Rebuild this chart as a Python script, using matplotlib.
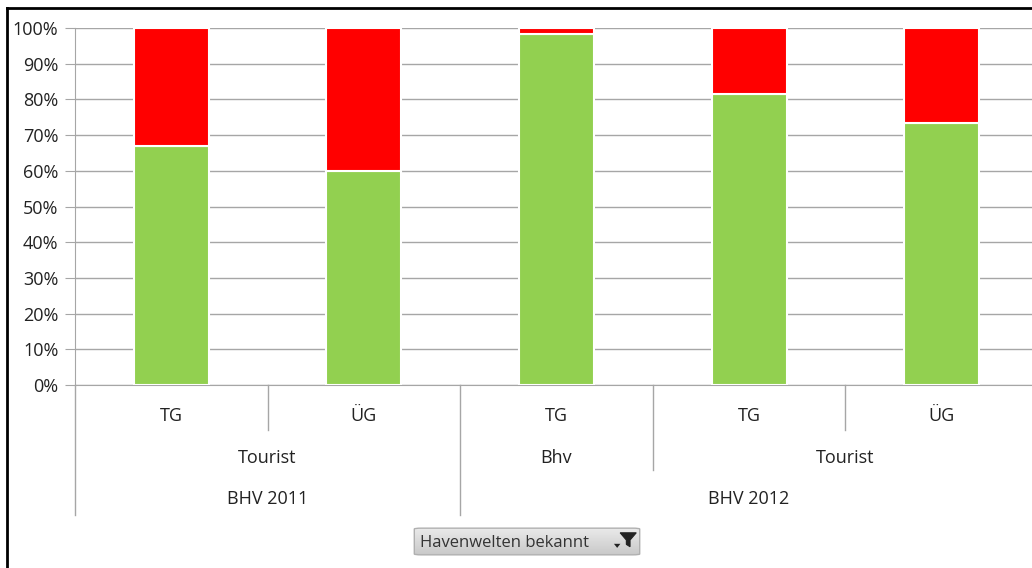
import matplotlib.pyplot as plt
import numpy as np
from matplotlib.patches import FancyBboxPatch, Polygon
from matplotlib.transforms import blended_transform_factory

plt.rcParams["font.family"] = ["Open Sans", "DejaVu Sans"]

# Share of respondents per group (green = known, red = not known)
groups = ["TG", "ÜG", "TG", "TG", "ÜG"]
known = [0.67, 0.60, 0.983, 0.815, 0.733]
unknown = [1 - k for k in known]
visitor_labels = [("Tourist", 0.5), ("Bhv", 2.0), ("Tourist", 3.5)]
year_labels = [("BHV 2011", 0.5), ("BHV 2012", 3.0)]

GREEN = "#92D050"
RED = "#FF0000"
GRID = "#A6A6A6"
TEXT = "#222222"

W, H = 1032, 568
fig = plt.figure(figsize=(W / 100, H / 100), dpi=100)
ax = fig.add_axes([75 / W, 1 - 385 / H, 963 / W, 357 / H])

x = np.arange(len(groups))
ax.bar(x, known, width=0.39, color=GREEN, edgecolor="white", linewidth=1.5, zorder=3)
ax.bar(x, unknown, bottom=known, width=0.39, color=RED, edgecolor="white", linewidth=1.5, zorder=3)

ax.set_xlim(-0.5, 4.5)
ax.set_ylim(0, 1)
ax.set_yticks(np.arange(0, 1.01, 0.1))
ax.set_yticklabels([f"{int(round(v * 100))}%" for v in np.arange(0, 1.01, 0.1)], fontsize=13)
ax.tick_params(axis="y", length=7, color=GRID, pad=5, labelcolor=TEXT)
ax.set_xticks([])
ax.grid(axis="y", color=GRID, linewidth=1, zorder=0)
for side in ["top", "right"]:
    ax.spines[side].set_visible(False)
for side in ["left", "bottom"]:
    ax.spines[side].set_color(GRID)

# multi-level category axis
tr = blended_transform_factory(ax.transData, ax.transAxes)
for i, g in enumerate(groups):
    ax.text(i, -0.088, g, transform=tr, ha="center", va="center", fontsize=13, color=TEXT)
for name, pos in visitor_labels:
    ax.text(pos, -0.205, name, transform=tr, ha="center", va="center", fontsize=13, color=TEXT)
for name, pos in year_labels:
    ax.text(pos, -0.32, name, transform=tr, ha="center", va="center", fontsize=13, color=TEXT)

separators = [(-0.5, -0.364), (0.5, -0.126), (1.5, -0.364), (2.5, -0.238), (3.5, -0.126)]
for sx, depth in separators:
    ax.plot([sx, sx], [0, depth], transform=tr, color=GRID, linewidth=1, clip_on=False)

# field filter button
bx, by, bw, bh = 412 / W, 1 - 556 / H, 230 / W, 29 / H
grad_ax = fig.add_axes([bx, by, bw, bh])
grad_ax.axis("off")
grad = np.linspace(0.92, 0.78, 50).reshape(-1, 1)
im = grad_ax.imshow(grad, cmap="gray", vmin=0, vmax=1, aspect="auto", extent=[0, 1, 0, 1])
box = FancyBboxPatch((0.01, 0.04), 0.98, 0.92, boxstyle="round,pad=0,rounding_size=0.03",
                     transform=grad_ax.transAxes, facecolor="none", edgecolor="#B0B0B0", linewidth=1)
grad_ax.add_patch(box)
im.set_clip_path(box)
grad_ax.set_xlim(0, 1)
grad_ax.set_ylim(0, 1)
grad_ax.text(0.035, 0.46, "Havenwelten bekannt", ha="left", va="center", fontsize=12, color="#333333")
grad_ax.add_patch(Polygon([[0.905, 0.80], [0.975, 0.80], [0.948, 0.55], [0.948, 0.32], [0.932, 0.40], [0.932, 0.55]],
                          closed=True, facecolor="#222222", edgecolor="#222222", linewidth=0.8))
grad_ax.add_patch(Polygon([[0.878, 0.42], [0.906, 0.42], [0.892, 0.28]], closed=True, facecolor="#222222"))

# outer frame (top and left edges)
fig.add_artist(plt.Line2D([7 / W, 1], [1 - 8 / H, 1 - 8 / H], color="black", linewidth=2))
fig.add_artist(plt.Line2D([7 / W, 7 / W], [0, 1 - 8 / H], color="black", linewidth=2))

fig.savefig("out.png", dpi=100, facecolor="white")
